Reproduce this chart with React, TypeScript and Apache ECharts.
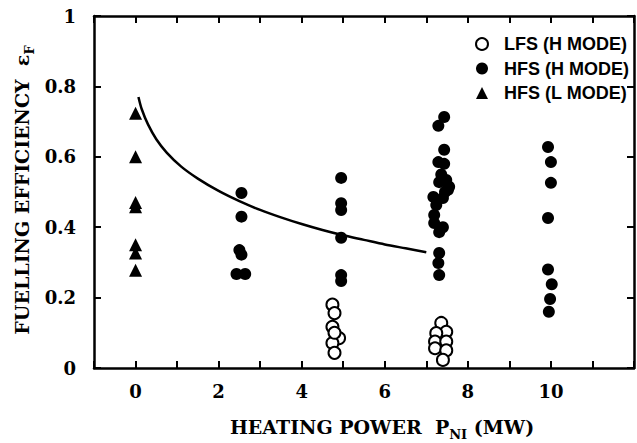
import React, { useEffect, useRef } from "react";
import * as echarts from "echarts";

// HFS pellet injection, H mode (filled circles)
const hfsH: [number, number][] = [
  [2.55, 0.497], [2.55, 0.43], [2.5, 0.335], [2.55, 0.322], [2.43, 0.267], [2.64, 0.267],
  [4.95, 0.54], [4.95, 0.468], [4.95, 0.449], [4.95, 0.37], [4.95, 0.264], [4.95, 0.247],
  [7.43, 0.713], [7.29, 0.688], [7.43, 0.62], [7.29, 0.585], [7.43, 0.58], [7.31, 0.528],
  [7.48, 0.534], [7.52, 0.506], [7.17, 0.486], [7.4, 0.483], [7.24, 0.463], [7.45, 0.5],
  [7.19, 0.435], [7.19, 0.412], [7.4, 0.4], [7.31, 0.386], [7.31, 0.327], [7.29, 0.298],
  [7.31, 0.264], [7.36, 0.55], [7.55, 0.515],
  [9.93, 0.628], [10.0, 0.585], [10.0, 0.526], [9.93, 0.426], [9.93, 0.28], [10.02, 0.238],
  [9.98, 0.196], [9.95, 0.16],
];

// LFS pellet injection, H mode (open circles)
const lfsH: [number, number][] = [
  [4.74, 0.18], [4.79, 0.156], [4.74, 0.117], [4.9, 0.085], [4.74, 0.071], [4.79, 0.1],
  [4.79, 0.043],
  [7.36, 0.128], [7.48, 0.103], [7.24, 0.099], [7.21, 0.075], [7.48, 0.075], [7.21, 0.056],
  [7.48, 0.05], [7.4, 0.023],
];

// HFS pellet injection, L mode (triangles)
const hfsL: [number, number][] = [
  [0, 0.724], [0, 0.6], [0, 0.47], [0, 0.458], [0, 0.35], [0, 0.327], [0, 0.278],
];

// fitted curve
const fitCurve: [number, number][] = [
  [0.07, 0.77], [0.15, 0.735], [0.3, 0.692], [0.5, 0.65], [0.75, 0.612], [1.1, 0.572],
  [1.5, 0.538], [2.0, 0.503], [2.5, 0.474], [3.0, 0.449], [3.5, 0.428], [4.0, 0.409],
  [4.5, 0.392], [5.0, 0.377], [5.5, 0.364], [6.0, 0.351], [6.5, 0.34], [7.0, 0.329],
];

const xLabels = [0, 2, 4, 6, 8, 10];
const legendNames = ["LFS (H MODE)", "HFS (H MODE)", "HFS (L MODE)"];

const SERIF = "'DejaVu Serif', serif";
const SANS = "'Liberation Sans', Arial, sans-serif";

export default function App() {
  const ref = useRef<HTMLDivElement>(null);
  useEffect(() => {
    if (!ref.current) return;
    const chart = echarts.init(ref.current, undefined, { renderer: "svg" });
    const axisLine = { show: true, onZero: false, lineStyle: { color: "#000", width: 2.5 } };
    const tick = { show: true, inside: true, length: 7, lineStyle: { color: "#000", width: 2 } };
    const rich = {
      s: { fontSize: 13, fontFamily: SERIF, fontWeight: "bold", verticalAlign: "bottom", lineHeight: 28 },
    };
    chart.setOption({
      animation: false,
      backgroundColor: "#fff",
      grid: { left: 94, top: 16, width: 546, height: 352, containLabel: false },
      xAxis: [
        {
          type: "value", min: -1, max: 12, interval: 1, position: "bottom",
          axisLine, axisTick: tick, splitLine: { show: false },
          axisLabel: {
            margin: 14, color: "#000", fontFamily: SERIF, fontWeight: "bold", fontSize: 18,
            formatter: (v: number) => (xLabels.indexOf(v) >= 0 ? String(v) : ""),
          },
        },
        {
          type: "value", min: -1, max: 12, interval: 1, position: "top",
          axisLine, axisTick: tick, splitLine: { show: false }, axisLabel: { show: false },
        },
      ],
      yAxis: [
        {
          type: "value", min: 0, max: 1, interval: 0.2, position: "left",
          axisLine, axisTick: tick, splitLine: { show: false },
          axisLabel: {
            margin: 18, color: "#000", fontFamily: SERIF, fontWeight: "bold", fontSize: 18,
            formatter: (v: number) => (v === 0 ? "0" : v === 1 ? "1" : v.toFixed(1)),
          },
        },
        {
          type: "value", min: 0, max: 1, interval: 0.2, position: "right",
          axisLine, axisTick: tick, splitLine: { show: false }, axisLabel: { show: false },
        },
      ],
      legend: {
        data: legendNames,
        orient: "vertical",
        left: 470,
        top: 29,
        itemWidth: 12,
        itemHeight: 12,
        itemGap: 4.5,
        selectedMode: false,
        textStyle: {
          color: "#000", fontFamily: SANS, fontWeight: "bold", fontSize: 18,
          lineHeight: 20, padding: [0, 0, 0, 11],
        },
      },
      graphic: [
        {
          type: "text", x: 22, y: 190, rotation: Math.PI / 2,
          style: {
            text: "FUELLING EFFICIENCY  ε{s|F}",
            fill: "#000", fontFamily: SERIF, fontWeight: "bold", fontSize: 19,
            align: "center", verticalAlign: "middle", lineHeight: 28, rich,
          },
        },
        {
          type: "text", x: 382, y: 427,
          style: {
            text: "HEATING POWER  P{s|NI} (MW)",
            fill: "#000", fontFamily: SERIF, fontWeight: "bold", fontSize: 19,
            align: "center", verticalAlign: "middle", lineHeight: 28, rich,
          },
        },
      ],
      series: [
        {
          name: "Fit", type: "line", data: fitCurve, smooth: 0.3, showSymbol: false, symbol: "none",
          lineStyle: { color: "#000", width: 2.5 }, z: 1,
        },
        {
          name: "LFS (H MODE)", type: "scatter", data: lfsH, symbol: "circle", symbolSize: 12,
          itemStyle: { color: "#fff", borderColor: "#000", borderWidth: 2, opacity: 1 }, z: 3,
        },
        {
          name: "HFS (H MODE)", type: "scatter", data: hfsH, symbol: "circle", symbolSize: 12,
          itemStyle: { color: "#000", opacity: 1 }, z: 3,
        },
        {
          name: "HFS (L MODE)", type: "scatter", data: hfsL, symbol: "triangle", symbolSize: 13,
          itemStyle: { color: "#000", opacity: 1 }, z: 3,
        },
      ],
    });
    return () => chart.dispose();
  }, []);
  return <div ref={ref} style={{ width: 637, height: 443, position: "absolute", left: 0, top: 0 }} />;
}
